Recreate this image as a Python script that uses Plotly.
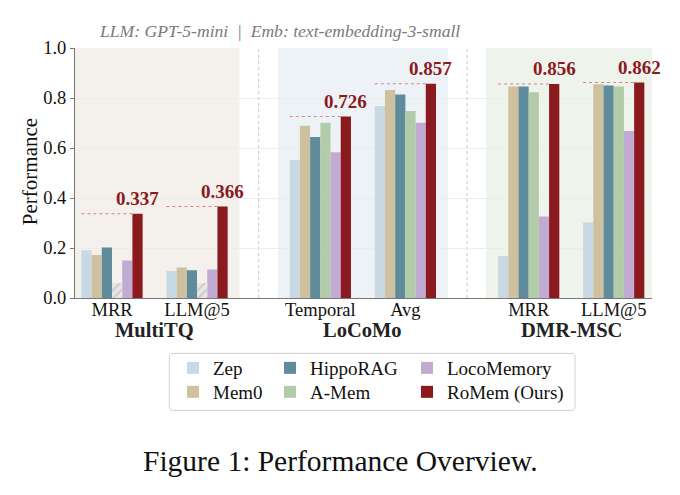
import plotly.graph_objects as go

# ---------------- data ----------------
datasets = ["MultiTQ", "LoCoMo", "DMR-MSC"]
metrics = ["MRR", "LLM@5", "Temporal", "Avg", "MRR", "LLM@5"]
metric_dataset = [0, 0, 1, 1, 2, 2]

methods = ["Zep", "Mem0", "HippoRAG", "A-Mem", "LocoMemory", "RoMem (Ours)"]
zep = [0.191, 0.108, 0.552, 0.768, 0.168, 0.302]
mem0 = [0.172, 0.122, 0.689, 0.832, 0.846, 0.855]
hipporag = [0.202, 0.111, 0.644, 0.814, 0.846, 0.850]
a_mem = [None, None, 0.701, 0.748, 0.823, 0.846]
locomemory = [0.150, 0.114, 0.583, 0.701, 0.326, 0.668]
romem = [0.337, 0.366, 0.726, 0.857, 0.856, 0.862]
a_mem_missing = [True, True, False, False, False, False]
NA_STUB = 0.06  # placeholder height for missing A-Mem results

series = [zep, mem0, hipporag, a_mem, locomemory, romem]
colors = ["#c8d9e4", "#cfc0a0", "#5f8b9b", "#b2cca9", "#c2abd3", "#8b1a1e"]

ytick_vals = [0.0, 0.2, 0.4, 0.6, 0.8, 1.0]

# ---------------- layout helpers ----------------
W, H = 680, 495
ML, MR, MT, MB = 75, 28, 48, 197.3
PW, PH = W - ML - MR, H - MT - MB
SERIF = "Liberation Serif, Times New Roman, serif"


def px(xp):
    return (xp - ML) / PW


def py(yp):
    return (H - MB - yp) / PH


GROUP_STEP, DATASET_GAP = 1.0, 0.45
pos = [i * GROUP_STEP + d * DATASET_GAP for i, d in enumerate(metric_dataset)]
BAR_W = 0.12
n_m = len(methods)
offsets = [(i - n_m / 2) * BAR_W for i in range(n_m)]

fig = go.Figure()

# legend placement (pixel positions of text start / row centre)
legend_spots = [(213, 368), (213, 392), (310, 368), (310, 392), (447, 368), (447, 392)]

for i, (name, vals, col) in enumerate(zip(methods, series, colors)):
    lname = "legend" if i == 0 else f"legend{i + 1}"
    fig.add_trace(go.Bar(
        x=pos, y=vals, name=name, width=BAR_W, offset=offsets[i],
        marker=dict(color=col, line=dict(width=0)),
        legend=lname, hoverinfo="name+y",
    ))

# hatched stubs for missing A-Mem values
na_x = [p for p, m in zip(pos, a_mem_missing) if m]
fig.add_trace(go.Bar(
    x=na_x, y=[NA_STUB] * len(na_x), width=BAR_W, offset=offsets[3],
    marker=dict(color="#e6e6e6", line=dict(width=0),
                pattern=dict(shape="/", fgcolor="#a9a9a9", size=6, solidity=0.3)),
    showlegend=False, hoverinfo="skip",
))

shapes = []
# background regions
region_colors = ["#f4f0eb", "#edf2f6", "#eef3ec"]
for d in range(len(datasets)):
    ps = [p for p, dd in zip(pos, metric_dataset) if dd == d]
    shapes.append(dict(type="rect", xref="x", yref="paper", x0=min(ps) - 0.5, x1=max(ps) + 0.5,
                       y0=0, y1=1, fillcolor=region_colors[d], line=dict(width=0), layer="below"))
    if d > 0:
        prev = [p for p, dd in zip(pos, metric_dataset) if dd == d - 1]
        sep = ((max(prev) + 0.5) + (min(ps) - 0.5)) / 2
        shapes.append(dict(type="line", xref="x", yref="paper", x0=sep, x1=sep, y0=0, y1=1,
                           line=dict(color="#c6c6c6", width=1, dash="dot"), layer="below"))

# reference lines at RoMem height
for p, v in zip(pos, romem):
    shapes.append(dict(type="line", xref="x", yref="y", x0=p + offsets[0], x1=p + offsets[5],
                       y0=v, y1=v, line=dict(color="#d9838b", width=1.1, dash="dot"), layer="above"))

# legend box (rounded)
bx0, bx1, by0, by1 = px(169.3), px(575), py(353), py(410)
rx, ry = 4 / PW, 4 / PH
path = (f"M {bx0 + rx},{by0} L {bx1 - rx},{by0} Q {bx1},{by0} {bx1},{by0 - ry} "
        f"L {bx1},{by1 + ry} Q {bx1},{by1} {bx1 - rx},{by1} L {bx0 + rx},{by1} "
        f"Q {bx0},{by1} {bx0},{by1 + ry} L {bx0},{by0 - ry} Q {bx0},{by0} {bx0 + rx},{by0} Z")
shapes.append(dict(type="path", xref="paper", yref="paper", path=path,
                   line=dict(color="#d0d0d0", width=1), fillcolor="rgba(255,255,255,0)"))

annotations = []
# value labels above RoMem bars
for p, v in zip(pos, romem):
    annotations.append(dict(x=p + offsets[5] + BAR_W / 2, y=v, xref="x", yref="y",
                            text=f"<b>{v:.3f}</b>", showarrow=False, yanchor="bottom",
                            yshift=3, font=dict(family=SERIF, size=19, color="#8b1a1e")))
# dataset labels
for d, name in enumerate(datasets):
    ps = [p for p, dd in zip(pos, metric_dataset) if dd == d]
    annotations.append(dict(x=sum(ps) / len(ps), y=0, xref="x", yref="paper", yanchor="middle",
                            yshift=-32, text=f"<b>{name}</b>", showarrow=False,
                            font=dict(family=SERIF, size=20.5, color="#222")))
# y-axis title
annotations.append(dict(x=px(30), y=py(172), xref="paper", yref="paper", xanchor="center",
                        yanchor="middle", textangle=-90, text="Performance", showarrow=False,
                        font=dict(family=SERIF, size=21, color="#111")))
# caption
annotations.append(dict(x=px(340), y=py(461), xref="paper", yref="paper", xanchor="center",
                        yanchor="middle", text="Figure 1: Performance Overview.", showarrow=False,
                        font=dict(family=SERIF, size=29.5, color="#111")))

layout_legends = {}
for i, (tx, ty) in enumerate(legend_spots):
    key = "legend" if i == 0 else f"legend{i + 1}"
    layout_legends[key] = dict(
        x=(tx - 40) / W, y=1 - ty / H, xref="container", yref="container",
        xanchor="left", yanchor="middle", orientation="v",
        bgcolor="rgba(0,0,0,0)", borderwidth=0,
        font=dict(family=SERIF, size=19, color="#111"),
    )

fig.update_layout(
    width=W, height=H,
    margin=dict(l=ML, r=MR, t=MT, b=MB, autoexpand=False),
    paper_bgcolor="white", plot_bgcolor="white",
    barmode="overlay",
    title=dict(text="<i>LLM: GPT-5-mini\u00a0\u00a0|\u00a0\u00a0Emb: text-embedding-3-small</i>",
               x=100 / W, xanchor="left", xref="container", y=1 - 31 / H, yanchor="middle",
               font=dict(family=SERIF, size=17.6, color="#7a7a7a")),
    xaxis=dict(range=[-0.435, 6.35], tickvals=pos, ticktext=metrics, showgrid=False,
               zeroline=False, showline=True, linecolor="#777", linewidth=1, ticks="",
               ticklabelstandoff=-5,
               tickfont=dict(family=SERIF, size=18.5, color="#111")),
    yaxis=dict(range=[0, 1], tickvals=ytick_vals, tickformat=".1f", showgrid=True,
               gridcolor="#ececec", gridwidth=0.8, zeroline=False, showline=True,
               linecolor="#777", linewidth=1, ticks="outside", ticklen=4, tickcolor="#777",
               tickfont=dict(family=SERIF, size=18.5, color="#111")),
    shapes=shapes, annotations=annotations,
    **layout_legends,
)

fig.write_html("out.html")
